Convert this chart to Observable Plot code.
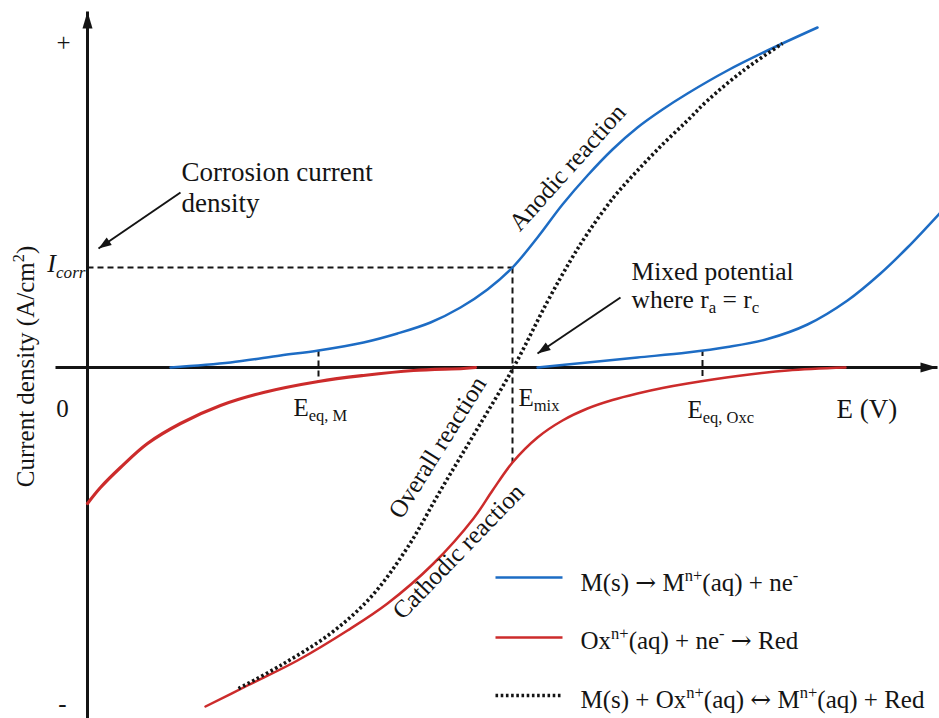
<!DOCTYPE html>
<html>
<head>
<meta charset="utf-8">
<script src="https://cdn.jsdelivr.net/npm/d3@7"></script>
<script src="https://cdn.jsdelivr.net/npm/@observablehq/plot@0.6"></script>
<style>
html, body { margin: 0; padding: 0; background: #fff; }
#chart { width: 939px; height: 718px; overflow: hidden; }
</style>
</head>
<body>
<div id="chart"></div>
<script>
// ---------------- data (E in arbitrary potential units, I in arbitrary current-density units) ----------------
// Anodic reaction of the metal: M(s) -> M^n+(aq) + ne-
const anodicM_E = [8.3, 14.3, 19.3, 23.1, 27.6, 31.0, 34.3, 37.3, 40.0, 42.5, 45.0, 47.5, 50.0, 52.5, 55.0, 57.5, 60.0, 64.0, 68.0, 73.0];
const anodicM_I = [0, 0.5, 1.2, 1.7, 2.5, 3.4, 4.5, 6.0, 7.8, 10.0, 13.0, 16.3, 19.2, 21.8, 24.0, 25.8, 27.4, 29.7, 31.7, 34.0];
// Cathodic branch of the metal couple
const cathodicM_E = [0, 1.3, 3.3, 6.0, 9.3, 13.3, 17.6, 23.1, 27.6, 32.6, 37.6, 38.8];
const cathodicM_I = [-13.6, -12.0, -10.0, -7.6, -5.6, -3.8, -2.5, -1.4, -0.8, -0.3, -0.1, 0];
// Anodic branch of the oxidant couple
const anodicOx_E = [45.0, 50.0, 55.0, 60.0, 64.0, 68.0, 72.0, 76.0, 79.3, 82.0, 85.2];
const anodicOx_I = [0, 0.5, 1.0, 1.5, 2.05, 2.85, 4.3, 6.7, 9.4, 12.0, 15.4];
// Cathodic reaction: Ox^n+(aq) + ne- -> Red
const cathodicOx_E = [11.8, 16.0, 21.0, 26.0, 30.0, 34.6, 38.6, 40.5, 42.5, 45.0, 47.5, 50.0, 52.5, 55.0, 57.5, 60.0, 65.0, 70.0, 75.8];
const cathodicOx_I = [-33.9, -31.8, -29.3, -26.3, -23.6, -19.6, -15.1, -12.3, -9.5, -7.0, -5.3, -4.1, -3.25, -2.6, -2.05, -1.6, -0.85, -0.3, 0];
// Overall reaction
const overall_E = [15.1, 19.3, 24.3, 28.3, 32.0, 35.3, 38.7, 42.6, 46.0, 48.3, 50.0, 52.6, 55.0, 57.6, 60.0, 62.0, 65.6, 69.5];
const overall_I = [-32.1, -29.8, -26.6, -23.0, -18.0, -12.3, -6.6, 0, 6.6, 10.7, 13.4, 17.0, 19.7, 22.4, 24.7, 26.7, 29.7, 32.4];

// Key potentials / currents
const Emix = 42.5, Icorr = 10.0, EeqM = 23.1, EeqOx = 61.5;
// Dashed guide segments
const guideX1 = [0, Emix, EeqM, EeqOx];
const guideY1 = [Icorr, Icorr, 1.7, 1.75];
const guideX2 = [Emix, Emix, EeqM, EeqOx];
const guideY2 = [Icorr, -9.5, -1.4, -1.45];
// Axis arrows
const axisX1 = [0, -3.2], axisY1 = [-35.1, 0], axisX2 = [0, 85.0], axisY2 = [35.6, 0];
// Annotation pointers
const pointerX1 = [9.3, 53.3], pointerY1 = [17.5, 7.0], pointerX2 = [1.1, 45.0], pointerY2 = [11.9, 1.4];

// Labels
const labelText = ["+", "0", "-", "Corrosion current", "density", "Anodic reaction", "Overall reaction", "Cathodic reaction",
  "E_{mix}", "E_{eq, M}", "E_{eq, Oxc}", "E (V)", "Mixed potential", "where r_{a} = r_{c}", "Current density (A/cm^{2})"];
const labelE = [-2.4, -2.5, -2.5, 9.4, 9.4, 48.0, 35.0, 37.1, 43.1, 20.6, 60.0, 74.9, 54.4, 54.4, -6.2];
const labelI = [32.5, -4.1, -33.6, 19.5, 16.4, 20.0, -8.0, -18.4, -3.0, -4.0, -4.2, -4.2, 9.6, 6.8, 0.1];
const labelSize = [25, 25, 25, 27, 27, 25, 25, 25, 25, 25, 25, 27, 25.5, 25.5, 25];
const labelRotate = [0, 0, 0, 0, 0, -48, -58, -46, 0, 0, 0, 0, 0, 0, -90];
const labelAnchor = ["middle", "middle", "middle", "start", "start", "middle", "middle", "middle", "start", "start", "start", "start", "start", "start", "middle"];
const icorrLabel = "I_{corr}", icorrE = -0.2, icorrI = 10.4;

// Legend
const legendText = ["M(s) → M^{n+}(aq) + ne^{-}", "Ox^{n+}(aq) + ne^{-} → Red", "M(s) + Ox^{n+}(aq) ↔ M^{n+}(aq) + Red"];
const legendI = [-21.0, -27.0, -32.8];
const legendTextI = [-21.5, -27.3, -33.2];
const legendE1 = 40.8, legendE2 = 47.5, legendTextE = 49.3;

// ---------------- build tables ----------------
const BLUE = "#1d6cc4", RED = "#cc2b2b", INK = "#141414";
const FONT = "'Liberation Serif', 'Times New Roman', serif";
const pts = (E, I) => E.map((e, i) => ({E: e, I: I[i]}));
const segs = (X1, Y1, X2, Y2) => X1.map((_, i) => ({
  x1: X1[i], y1: Y1[i], x2: X2[i], y2: Y2[i],
  // x and y scales use the same pixels per unit, so the heading can be taken from the data
  angle: Math.atan2(X2[i] - X1[i], Y2[i] - Y1[i]) * 180 / Math.PI
}));
const guides = segs(guideX1, guideY1, guideX2, guideY2);
const axes = segs(axisX1, axisY1, axisX2, axisY2);
const pointers = segs(pointerX1, pointerY1, pointerX2, pointerY2);
const labels = labelText.map((t, i) => ({text: t, E: labelE[i], I: labelI[i], size: labelSize[i], rotate: labelRotate[i], anchor: labelAnchor[i]}));
const legendRows = legendText.map((t, i) => ({text: t, I: legendI[i], tI: legendTextI[i]}));
const DOTS = "2.6,2.6";

const chart = Plot.plot({
  width: 939, height: 718,
  marginTop: 0, marginRight: 0, marginBottom: 0, marginLeft: 0,
  x: {domain: [-8.7, 85.2], axis: null},
  y: {domain: [-35.1, 36.7], axis: null},
  style: {background: "#fff", fontFamily: FONT, color: INK},
  marks: [
    Plot.link(guides, {x1: "x1", y1: "y1", x2: "x2", y2: "y2", stroke: INK, strokeWidth: 2, strokeDasharray: "6,4", strokeLinecap: "butt"}),
    // axes with filled arrowheads
    Plot.link(axes, {x1: "x1", y1: "y1", x2: "x2", y2: "y2", stroke: INK, strokeWidth: 3, strokeLinecap: "butt"}),
    Plot.vector(axes, {x: "x2", y: "y2", rotate: "angle", length: 17, r: 5, shape: "spike", anchor: "end", fill: INK, stroke: "none"}),
    Plot.line(pts(cathodicM_E, cathodicM_I), {x: "E", y: "I", stroke: RED, strokeWidth: 3.2, curve: "catmull-rom"}),
    Plot.line(pts(cathodicOx_E, cathodicOx_I), {x: "E", y: "I", stroke: RED, strokeWidth: 2.5, curve: "catmull-rom"}),
    Plot.line(pts(anodicM_E, anodicM_I), {x: "E", y: "I", stroke: BLUE, strokeWidth: 2.5, curve: "catmull-rom"}),
    Plot.line(pts(anodicOx_E, anodicOx_I), {x: "E", y: "I", stroke: BLUE, strokeWidth: 2.5, curve: "catmull-rom"}),
    Plot.line(pts(overall_E, overall_I), {x: "E", y: "I", stroke: INK, strokeWidth: 3.6, strokeDasharray: DOTS, strokeLinecap: "butt", curve: "catmull-rom"}),
    // annotation pointers
    Plot.link(pointers, {x1: "x1", y1: "y1", x2: "x2", y2: "y2", stroke: INK, strokeWidth: 2}),
    Plot.vector(pointers, {x: "x2", y: "y2", rotate: "angle", length: 13, r: 4.5, shape: "spike", anchor: "end", fill: INK, stroke: "none"}),
    // legend samples
    Plot.link(legendRows.slice(0, 1), {x1: legendE1, x2: legendE2, y1: "I", y2: "I", stroke: BLUE, strokeWidth: 2.5}),
    Plot.link(legendRows.slice(1, 2), {x1: legendE1, x2: legendE2, y1: "I", y2: "I", stroke: RED, strokeWidth: 2.5}),
    Plot.link(legendRows.slice(2, 3), {x1: legendE1, x2: legendE2, y1: "I", y2: "I", stroke: INK, strokeWidth: 3.6, strokeDasharray: DOTS, strokeLinecap: "butt"}),
    Plot.text(legendRows, {x: legendTextE, y: "tI", text: "text", textAnchor: "start", fontSize: 25, fill: INK}),
    // labels
    Plot.text(labels.filter(d => d.anchor === "start"), {x: "E", y: "I", text: "text", rotate: "rotate", fontSize: "size", textAnchor: "start", fill: INK}),
    Plot.text(labels.filter(d => d.anchor === "middle"), {x: "E", y: "I", text: "text", rotate: "rotate", fontSize: "size", textAnchor: "middle", fill: INK}),
    Plot.text([{text: icorrLabel, E: icorrE, I: icorrI}], {x: "E", y: "I", text: "text", textAnchor: "end", fontSize: 26, fontStyle: "italic", fill: INK})
  ]
});

document.getElementById("chart").appendChild(chart);

// Turn _{..} and ^{..} into real subscript / superscript tspans; draw arrows in a font with full-size arrows
function richify(root) {
  const NS = "http://www.w3.org/2000/svg";
  root.querySelectorAll("text").forEach(t => {
    const s = t.textContent;
    if (!/[_^]\{|[→↔]/.test(s)) return;
    const fs = parseFloat(getComputedStyle(t).fontSize) || 25;
    while (t.firstChild) t.removeChild(t.firstChild);
    const add = (str, dy, size) => {
      const parts = str.split(/([→↔])/);
      let first = true;
      parts.forEach(p => {
        if (!p) return;
        const sp = document.createElementNS(NS, "tspan");
        sp.textContent = p;
        if (first && dy) sp.setAttribute("dy", dy);
        first = false;
        if (size) sp.setAttribute("font-size", size);
        if (/^[→↔]$/.test(p)) sp.setAttribute("font-family", "'DejaVu Serif', 'DejaVu Sans', serif");
        t.appendChild(sp);
      });
    };
    const re = /([_^])\{([^}]*)\}/g;
    let last = 0, m, shift = 0;
    while ((m = re.exec(s))) {
      if (m.index > last) { add(s.slice(last, m.index), -shift || 0); shift = 0; }
      const d = m[1] === "_" ? 0.22 * fs : -0.4 * fs;
      add(m[2], d - shift, 0.66 * fs);
      shift = d;
      last = re.lastIndex;
    }
    if (last < s.length) add(s.slice(last), -shift || 0);
  });
}
richify(chart);
</script>
</body>
</html>
